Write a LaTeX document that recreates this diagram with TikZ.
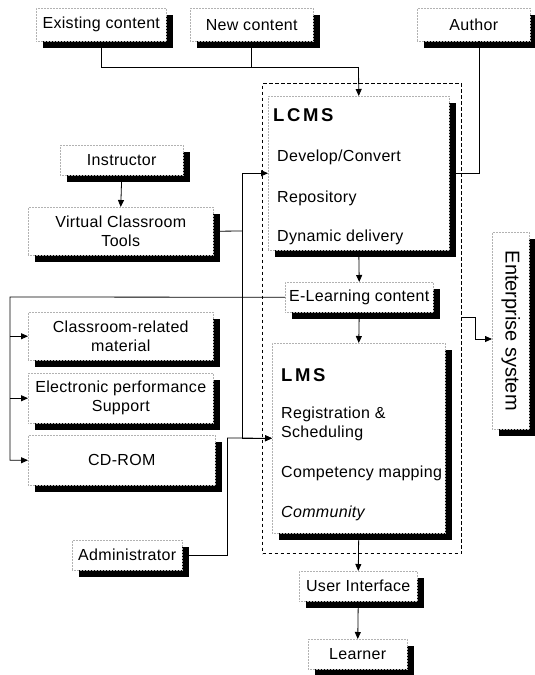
\documentclass[tikz,border=0pt]{standalone}
\usepackage{fontspec}
\setmainfont{Liberation Sans}
\usetikzlibrary{shadows,arrows.meta}
\begin{document}
\begin{tikzpicture}[x=1pt,y=-1pt,
  txt/.style={font=\fontsize{16}{19}\selectfont\addfontfeature{LetterSpace=2}},
  bx/.style={draw=gray!60, densely dotted, line width=0.5pt, fill=white, inner sep=0pt,
    anchor=north west, align=center, txt,
    general shadow={fill=black, draw=none, shadow xshift=6.5pt, shadow yshift=-6.5pt}},
  wh/.style 2 args={minimum width=#1pt, minimum height=#2pt},
  dbox/.style={draw=black, line width=1pt, dash pattern=on 3.5pt off 2.5pt, inner sep=0pt, anchor=north west},
  item/.style={anchor=west, inner sep=0pt, txt},
  head/.style={anchor=west, inner sep=0pt, font=\fontsize{18.5}{20}\selectfont\bfseries\addfontfeature{LetterSpace=14}},
  ln/.style={line width=0.8pt},
  arr/.style={ln, -{Triangle[length=7pt,width=6pt]}}
]
\useasboundingbox (0,0) rectangle (535,675);
% dashed container
\node[dbox, minimum width=199pt, minimum height=470pt] (dash) at (262,83) {};
% boxes
\node[bx, wh={130}{33}] (exist) at (36,8) {Existing content};
\node[bx, wh={123}{33}] (new) at (190,8) {New content};
\node[bx, wh={113}{33}] (author) at (417,8) {Author};
\node[bx, wh={123}{30}] (instr) at (60,145) {Instructor};
\node[bx, wh={185}{48}] (vct) at (28,207) {Virtual Classroom\\Tools};
\node[bx, wh={185}{48}] (crm) at (28,312) {Classroom-related\\material};
\node[bx, wh={185}{50}] (eps) at (28,373) {Electronic performance\\Support};
\node[bx, wh={187}{50}] (cd) at (28,435) {CD-ROM};
\node[bx, wh={110}{30}] (admin) at (72,540) {Administrator};
\node[bx, wh={181}{154}] (lcms) at (268,96) {};
\node[bx, wh={148}{30}] (elc) at (285,282) {E-Learning content};
\node[bx, wh={173}{190}] (lms) at (272,343) {};
\node[bx, wh={37}{197}] (ent) at (492,232) {};
\node[rotate=-90, inner sep=0pt, font=\fontsize{20}{24}\selectfont] (entt) at (ent.center) {Enterprise system};
\node[bx, wh={118}{30}] (ui) at (299,571) {User Interface};
\node[bx, wh={99}{30}] (learner) at (308,639) {Learner};
% LCMS contents
\node[head] (lcmsh) at (273,115) {LCMS};
\node[item] (dev) at (277,157) {Develop/Convert};
\node[item] (rep) at (277,198) {Repository};
\node[item] (dyn) at (277,237) {Dynamic delivery};
% LMS contents
\node[head] (lmsh) at (281,375) {LMS};
\node[item, align=left] (reg) at (281,424) {Registration \&\\Scheduling};
\node[item] (comp) at (281,473) {Competency mapping};
\node[item, font=\fontsize{16}{19}\selectfont\itshape\addfontfeature{LetterSpace=2}] (comm) at (281,513) {Community};
% coordinates
\coordinate (j1) at (358.5,67);
\coordinate (aj) at (479,41);
\coordinate (v1) at (242,231);
\coordinate (a1) at (227,438);
\coordinate (l0) at (10,297);
\coordinate (e1) at (461,317);
\coordinate (e2) at (475,339);
% connectors
\draw[ln] (exist.south) |- (j1);
\draw[ln] (new.south) -- (new.south |- j1);
\draw[arr] (j1) -- (lcms.north);
\draw[ln] (aj) |- (lcms.east);
\draw[arr] (instr.south) -- (vct.north);
\draw[ln] (vct.east) -- (v1);
\draw[arr] (v1) |- (lcms.west);
\draw[arr] (v1) |- (lms.west);
\draw[ln] (admin.east) -| (a1);
\draw[arr] (a1) -- (lms.west);
\draw[arr] (lcms.south) -- (elc.north);
\draw[arr] (elc.south) -- (lms.north);
\draw[arr] (elc.west) -- (l0) |- (cd.west);
\draw[arr] (l0 |- crm.west) -- (crm.west);
\draw[arr] (l0 |- eps.west) -- (eps.west);
\draw[ln] (e1) -| (e2);
\draw[arr] (e2) -- (e2 -| ent.west);
\draw[arr] (lms.south) -- (ui.north);
\draw[arr] (ui.south) -- (learner.north);
\end{tikzpicture}
\end{document}
